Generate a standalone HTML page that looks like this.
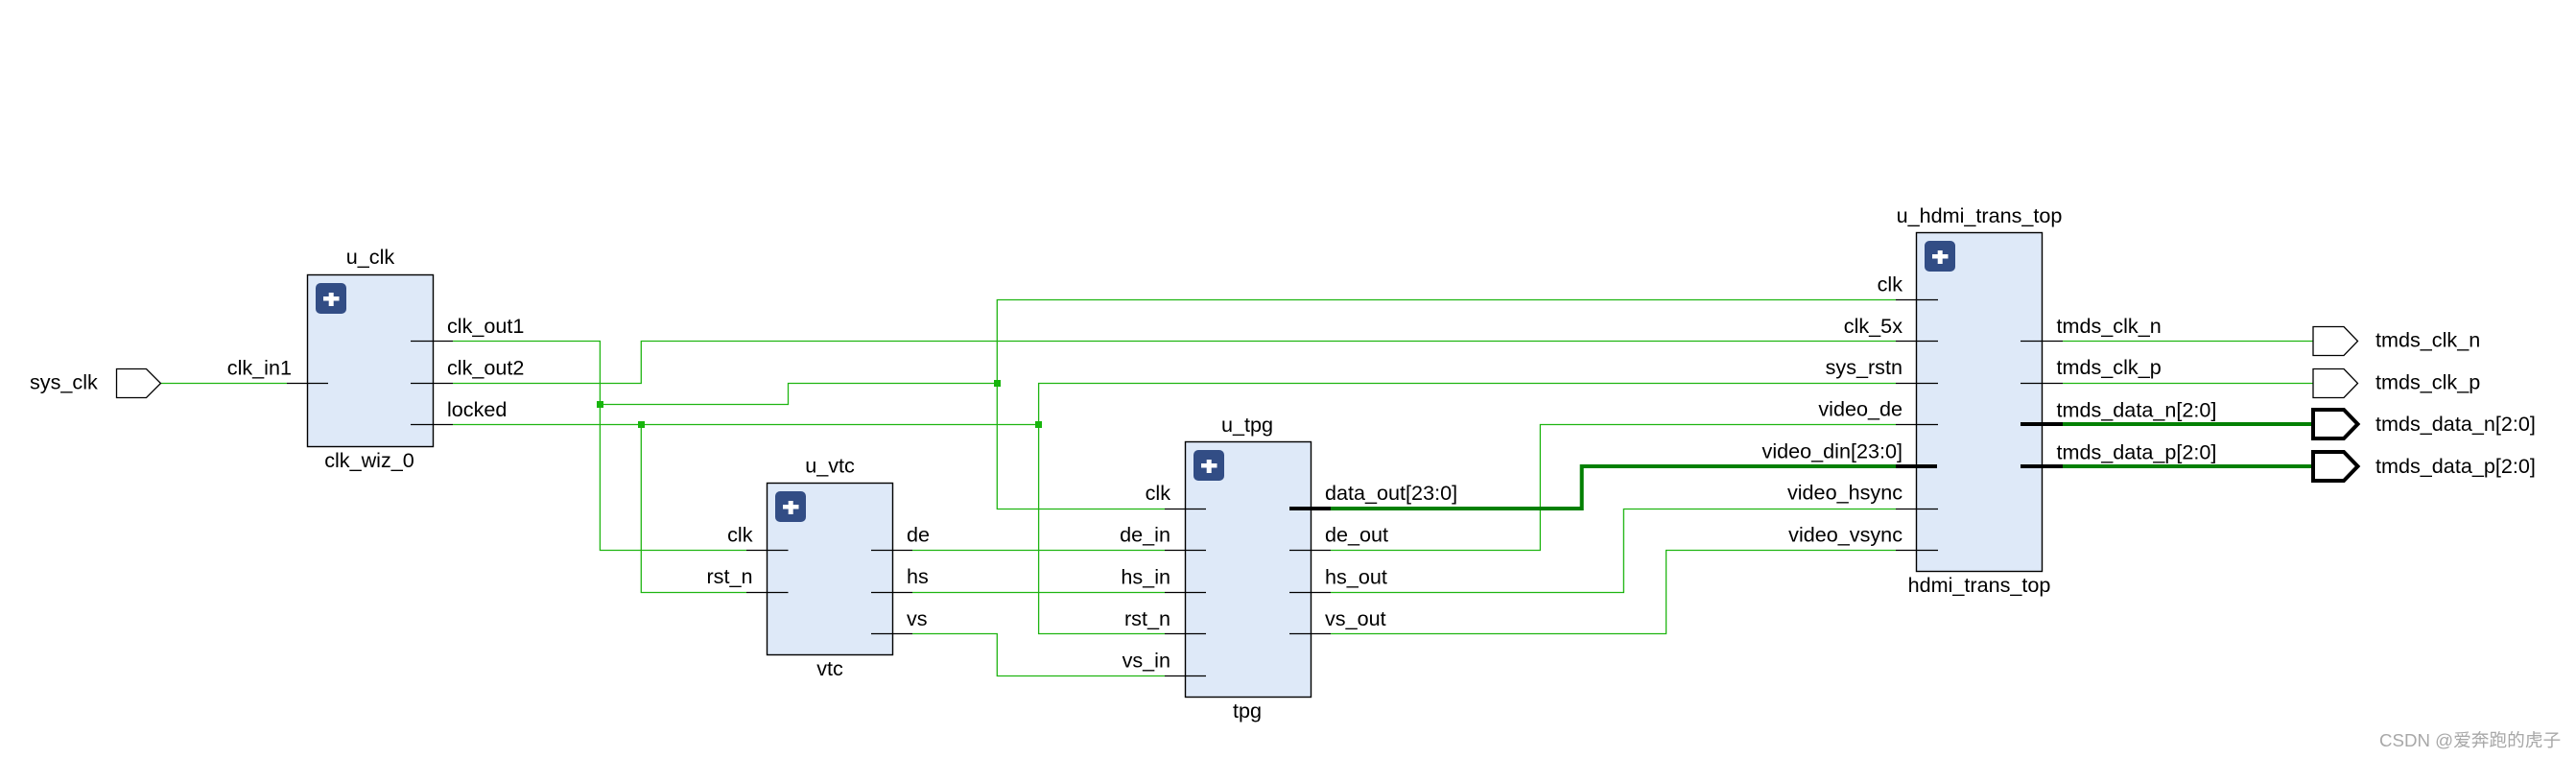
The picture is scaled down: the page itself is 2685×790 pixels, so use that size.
<!DOCTYPE html>
<html>
<head>
<meta charset="utf-8">
<style>
html,body{margin:0;padding:0;background:#fff}
svg{display:block}
text{font-family:"Liberation Sans","Noto Sans CJK SC",sans-serif;font-size:21.6px;fill:#000}
.w{fill:none;stroke:#1fb512;stroke-width:1.3}
.W{fill:none;stroke:#038003;stroke-width:4}
.s{stroke:#000;stroke-width:1.3;fill:none}
.S{stroke:#000;stroke-width:4;fill:none}
.b{fill:#dee9f8;stroke:#000;stroke-width:1.4}
.i{fill:#324d85}
.j{fill:#17b50c}
.m{text-anchor:middle}
.e{text-anchor:end}
</style>
</head>
<body>
<svg width="2685" height="790" viewBox="0 0 2685 790" xmlns="http://www.w3.org/2000/svg">
<rect width="2685" height="790" fill="#fff"/>

<!-- blocks -->
<rect class="b" x="320.5" y="286.5" width="131" height="179"/>
<rect class="b" x="799.5" y="503.5" width="131" height="179"/>
<rect class="b" x="1235.5" y="460.5" width="131" height="266"/>
<rect class="b" x="1997.5" y="242.5" width="131" height="353"/>

<!-- plus icons -->
<g>
<rect class="i" x="329" y="295" width="32" height="32" rx="5"/>
<rect x="337" y="309" width="16.5" height="4.5" fill="#fff"/><rect x="342.7" y="305" width="5" height="14" fill="#fff"/>
<rect class="i" x="808" y="512" width="32" height="32" rx="5"/>
<rect x="816" y="526" width="16.5" height="4.5" fill="#fff"/><rect x="821.7" y="522" width="5" height="14" fill="#fff"/>
<rect class="i" x="1244" y="469" width="32" height="32" rx="5"/>
<rect x="1252" y="483" width="16.5" height="4.5" fill="#fff"/><rect x="1257.7" y="479" width="5" height="14" fill="#fff"/>
<rect class="i" x="2006" y="251" width="32" height="32" rx="5"/>
<rect x="2014" y="265" width="16.5" height="4.5" fill="#fff"/><rect x="2019.7" y="261" width="5" height="14" fill="#fff"/>
</g>

<!-- thin wires -->
<path class="w" d="M167 399.5H299"/>
<path class="w" d="M472 355.5H625.4V573.5H778"/>
<path class="w" d="M472 399.5H668.3V355.5H1976"/>
<path class="w" d="M472 442.5H1082.6"/>
<path class="w" d="M668.3 442.5V617.5H778"/>
<path class="w" d="M625.4 421.5H821.5V399.5H1039.3"/>
<path class="w" d="M1976 312.5H1039.3V530.5H1214"/>
<path class="w" d="M1976 399.5H1082.6V660.5H1214"/>
<path class="w" d="M951 573.5H1214"/>
<path class="w" d="M951 617.5H1214"/>
<path class="w" d="M951 660.5H1039.3V704.5H1214"/>
<path class="w" d="M1387 573.5H1605.4V442.5H1976"/>
<path class="w" d="M1387 617.5H1692.4V530.5H1976"/>
<path class="w" d="M1387 660.5H1736.6V573.5H1976"/>
<path class="w" d="M2150 355.5H2411"/>
<path class="w" d="M2150 399.5H2411"/>

<!-- bus wires -->
<path class="W" d="M1387 530H1648.7V486H1976"/>
<path class="W" d="M2150 442H2411"/>
<path class="W" d="M2150 486H2411"/>

<!-- junctions -->
<rect class="j" x="622" y="418" width="7" height="7"/>
<rect class="j" x="665" y="439" width="7" height="7"/>
<rect class="j" x="1036" y="396" width="7" height="7"/>
<rect class="j" x="1079" y="439" width="7" height="7"/>

<!-- stubs -->
<path class="s" d="M299 399.5H342M428 355.5H472M428 399.5H472M428 442.5H472"/>
<path class="s" d="M778 573.5H821.5M778 617.5H821.5M908 573.5H951M908 617.5H951M908 660.5H951"/>
<path class="s" d="M1214 530.5H1257M1214 573.5H1257M1214 617.5H1257M1214 660.5H1257M1214 704.5H1257"/>
<path class="s" d="M1344 573.5H1387M1344 617.5H1387M1344 660.5H1387"/>
<path class="S" d="M1344 530H1387"/>
<path class="s" d="M1976 312.5H2020M1976 355.5H2020M1976 399.5H2020M1976 442.5H2020M1976 530.5H2020M1976 573.5H2020"/>
<path class="S" d="M1976 486H2019"/>
<path class="s" d="M2106 355.5H2150M2106 399.5H2150"/>
<path class="S" d="M2106 442H2150M2106 486H2150"/>

<!-- top level ports -->
<path class="s" d="M121.5 384.5H152.5L167.5 399.5L152.5 414.5H121.5Z"/>
<path class="s" d="M2411 340.5H2443L2457.5 355.5L2443 370.5H2411Z"/>
<path class="s" d="M2411 384.5H2443L2457.5 399.5L2443 414.5H2411Z"/>
<path class="S" d="M2411 427H2443L2457.5 442L2443 457H2411Z"/>
<path class="S" d="M2411 471H2443L2457.5 486L2443 501H2411Z"/>

<!-- labels: u_clk -->
<text class="m" x="386" y="275">u_clk</text>
<text class="m" x="385" y="487">clk_wiz_0</text>
<text x="31" y="405.5">sys_clk</text>
<text class="e" x="304" y="390.5">clk_in1</text>
<text x="466" y="347">clk_out1</text>
<text x="466" y="390.5">clk_out2</text>
<text x="466" y="434">locked</text>

<!-- labels: u_vtc -->
<text class="m" x="865" y="492.5">u_vtc</text>
<text class="m" x="865" y="704">vtc</text>
<text class="e" x="784.5" y="564.5">clk</text>
<text class="e" x="784.5" y="608">rst_n</text>
<text x="945" y="564.5">de</text>
<text x="945" y="608">hs</text>
<text x="945" y="652">vs</text>

<!-- labels: u_tpg -->
<text class="m" x="1300" y="450">u_tpg</text>
<text class="m" x="1300" y="748">tpg</text>
<text class="e" x="1220" y="521">clk</text>
<text class="e" x="1220" y="564.5">de_in</text>
<text class="e" x="1220" y="608.5">hs_in</text>
<text class="e" x="1220" y="652">rst_n</text>
<text class="e" x="1220" y="695.5">vs_in</text>
<text x="1381" y="521">data_out[23:0]</text>
<text x="1381" y="564.5">de_out</text>
<text x="1381" y="608.5">hs_out</text>
<text x="1381" y="652">vs_out</text>

<!-- labels: hdmi -->
<text class="m" x="2063" y="232">u_hdmi_trans_top</text>
<text class="m" x="2063" y="617">hdmi_trans_top</text>
<text class="e" x="1983" y="303.5">clk</text>
<text class="e" x="1983" y="347">clk_5x</text>
<text class="e" x="1983" y="390">sys_rstn</text>
<text class="e" x="1983" y="433.5">video_de</text>
<text class="e" x="1983" y="477.5">video_din[23:0]</text>
<text class="e" x="1983" y="520.5">video_hsync</text>
<text class="e" x="1983" y="564.5">video_vsync</text>
<text x="2143.5" y="347">tmds_clk_n</text>
<text x="2143.5" y="390">tmds_clk_p</text>
<text x="2143.5" y="434.5">tmds_data_n[2:0]</text>
<text x="2143.5" y="478.5">tmds_data_p[2:0]</text>

<!-- output port labels -->
<text x="2476" y="361.5">tmds_clk_n</text>
<text x="2476" y="405.5">tmds_clk_p</text>
<text x="2476" y="449">tmds_data_n[2:0]</text>
<text x="2476" y="493">tmds_data_p[2:0]</text>

<!-- watermark -->
<text x="2480" y="778" style="font-size:18.7px;fill:#a8a8a8">CSDN @爱奔跑的虎子</text>
</svg>
</body>
</html>
